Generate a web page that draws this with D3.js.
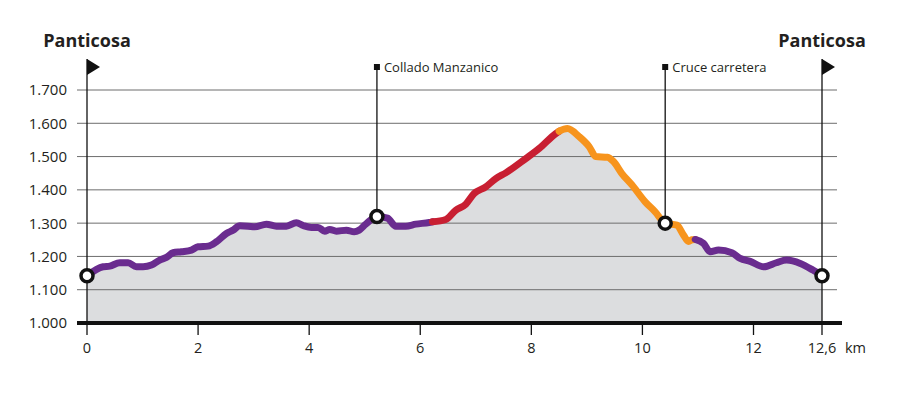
<!DOCTYPE html>
<html>
<head>
<meta charset="utf-8">
<script src="https://cdn.jsdelivr.net/npm/d3@7"></script>
<style>
  body { margin: 0; background: #fff; }
  svg { display: block; font-family: "Open Sans", sans-serif; }
</style>
</head>
<body>
<div id="chart"></div>
<script>
// track profile (km, metres)
const km = [0, 0.29, 0.41, 0.59, 0.74, 0.89, 1.01, 1.16, 1.31, 1.43, 1.55, 1.70, 1.88, 2.0, 2.18, 2.33, 2.51, 2.63, 2.75, 2.90,
  3.02, 3.23, 3.41, 3.59, 3.77, 3.89, 4.04, 4.16, 4.28, 4.37, 4.49, 4.67, 4.81, 4.90, 5.02, 5.22, 5.41, 5.56, 5.74, 5.92,
  6.16, 6.22, 6.46, 6.64, 6.82, 6.97, 7.18, 7.36, 7.54, 7.90, 8.14, 8.44, 8.50, 8.65, 8.86, 9.04, 9.16, 9.37, 9.48, 9.63,
  9.81, 10.05, 10.23, 10.41, 10.62, 10.74, 10.83, 10.89, 10.95, 11.10, 11.22, 11.37, 11.61, 11.76, 11.94, 12.09, 12.20, 12.29, 12.41, 12.52, 12.6]
const elevation = [1142, 1169, 1171, 1181, 1181, 1169, 1169, 1174, 1189, 1197, 1211, 1214, 1219, 1229, 1231, 1244, 1269, 1279, 1292, 1291,
  1289, 1297, 1291, 1291, 1301, 1293, 1287, 1287, 1276, 1281, 1276, 1279, 1274, 1279, 1297, 1320, 1315, 1291, 1291, 1297,
  1302, 1304, 1311, 1339, 1357, 1389, 1409, 1434, 1451, 1494, 1524, 1569, 1576, 1584, 1560, 1530, 1500, 1498, 1485, 1449,
  1415, 1364, 1334, 1300, 1294, 1264, 1245, 1250, 1251, 1239, 1214, 1219, 1211, 1194, 1185, 1169, 1181, 1189, 1179, 1159, 1142]

// difficulty sections
const sectionStart = [0, 6.22, 8.50, 10.95]
const sectionEnd = [6.22, 8.50, 10.95, 12.6]
const sectionColor = ['#6a2c8f', '#c81f32', '#f7941d', '#6a2c8f']

// waypoints
const wpName = ['Panticosa', 'Collado Manzanico', 'Cruce carretera', 'Panticosa']
const wpKm = [0, 5.22, 10.41, 12.6]
const wpElev = [1142, 1320, 1300, 1142]
const wpKind = ['flag', 'post', 'post', 'flag']

const yTicks = [1000, 1100, 1200, 1300, 1400, 1500, 1600, 1700]
const xTicks = [0, 2, 4, 6, 8, 10, 12, 12.6]

const width = 909, height = 397

const svg = d3.select('#chart').append('svg')
  .attr('width', width)
  .attr('height', height)

// last stretch (12 -> 12,6) is drawn wider in the original
const x = d3.scaleLinear().domain([0, 12, 12.6]).range([87, 753.5, 822])
const y = d3.scaleLinear().domain([1000, 1700]).range([323, 90])

const profile = km.map((k, i) => ({ km: k, ele: elevation[i] }))

// grey area under the profile
const area = d3.area()
  .x(d => x(d.km))
  .y0(y(1000))
  .y1(d => y(d.ele))
  .curve(d3.curveMonotoneX)

svg.append('path')
  .datum(profile)
  .attr('d', area)
  .attr('fill', '#dcdddf')

// grid lines
const fmt = d3.format(',')
svg.append('g')
  .selectAll('line')
  .data(yTicks.filter(t => t > 1000))
  .join('line')
  .attr('x1', 77).attr('x2', 837)
  .attr('y1', d => y(d)).attr('y2', d => y(d))
  .attr('stroke', '#6d6d6d')
  .attr('stroke-width', 1)

svg.append('g')
  .selectAll('text')
  .data(yTicks)
  .join('text')
  .attr('x', 67)
  .attr('y', d => y(d))
  .attr('dy', '0.36em')
  .attr('text-anchor', 'end')
  .attr('font-size', 15)
  .attr('fill', '#231f20')
  .text(d => fmt(d).replace(',', '.'))

// base line and km ticks
svg.append('line')
  .attr('x1', 77).attr('x2', 842)
  .attr('y1', y(1000)).attr('y2', y(1000))
  .attr('stroke', '#111').attr('stroke-width', 4)

const xAxis = svg.append('g')
xAxis.selectAll('line')
  .data(xTicks)
  .join('line')
  .attr('x1', d => x(d)).attr('x2', d => x(d))
  .attr('y1', y(1000)).attr('y2', y(1000) + 12)
  .attr('stroke', '#111').attr('stroke-width', 1.3)
xAxis.selectAll('text')
  .data(xTicks)
  .join('text')
  .attr('x', d => x(d))
  .attr('y', 353)
  .attr('text-anchor', 'middle')
  .attr('font-size', 14.5)
  .attr('fill', '#231f20')
  .text(d => String(d).replace('.', ','))
svg.append('text')
  .attr('x', 845).attr('y', 353)
  .attr('font-size', 14.5)
  .attr('fill', '#231f20')
  .text('km')

// waypoint poles
const wps = wpName.map((n, i) => ({ name: n, km: wpKm[i], ele: wpElev[i], kind: wpKind[i] }))

svg.append('g')
  .selectAll('line')
  .data(wps)
  .join('line')
  .attr('x1', d => x(d.km)).attr('x2', d => x(d.km))
  .attr('y1', d => d.kind === 'flag' ? 59 : 66)
  .attr('y2', d => d.kind === 'flag' ? y(1000) : y(d.ele))
  .attr('stroke', '#111').attr('stroke-width', 1.3)

const flags = wps.filter(d => d.kind === 'flag')
svg.append('g')
  .selectAll('path')
  .data(flags)
  .join('path')
  .attr('d', d => `M${x(d.km)},59 L${x(d.km) + 13},67 L${x(d.km)},75 Z`)
  .attr('fill', '#111')
svg.append('g')
  .selectAll('text')
  .data(flags)
  .join('text')
  .attr('x', d => x(d.km))
  .attr('y', 47)
  .attr('text-anchor', 'middle')
  .attr('font-size', 18)
  .attr('font-weight', 'bold')
  .attr('fill', '#231f20')
  .text(d => d.name)

const posts = wps.filter(d => d.kind === 'post')
svg.append('g')
  .selectAll('rect')
  .data(posts)
  .join('rect')
  .attr('x', d => x(d.km) - 3).attr('y', 64)
  .attr('width', 6).attr('height', 6)
  .attr('fill', '#111')
svg.append('g')
  .selectAll('text')
  .data(posts)
  .join('text')
  .attr('x', d => x(d.km) + 7)
  .attr('y', 67)
  .attr('dy', '0.35em')
  .attr('font-size', 13)
  .attr('fill', '#231f20')
  .text(d => d.name)

// coloured track sections
const line = d3.line()
  .x(d => x(d.km))
  .y(d => y(d.ele))
  .curve(d3.curveMonotoneX)

svg.append('g')
  .selectAll('path')
  .data(sectionColor.map((c, i) => ({
    color: c,
    pts: profile.filter(p => p.km >= sectionStart[i] && p.km <= sectionEnd[i])
  })))
  .join('path')
  .attr('d', d => line(d.pts))
  .attr('fill', 'none')
  .attr('stroke', d => d.color)
  .attr('stroke-width', 7)
  .attr('stroke-linecap', 'round')
  .attr('stroke-linejoin', 'round')

// waypoint rings
svg.append('g')
  .selectAll('circle')
  .data(wps)
  .join('circle')
  .attr('cx', d => x(d.km))
  .attr('cy', d => y(d.ele))
  .attr('r', 6)
  .attr('fill', '#fff')
  .attr('stroke', '#111')
  .attr('stroke-width', 3.5)
</script>
</body>
</html>
